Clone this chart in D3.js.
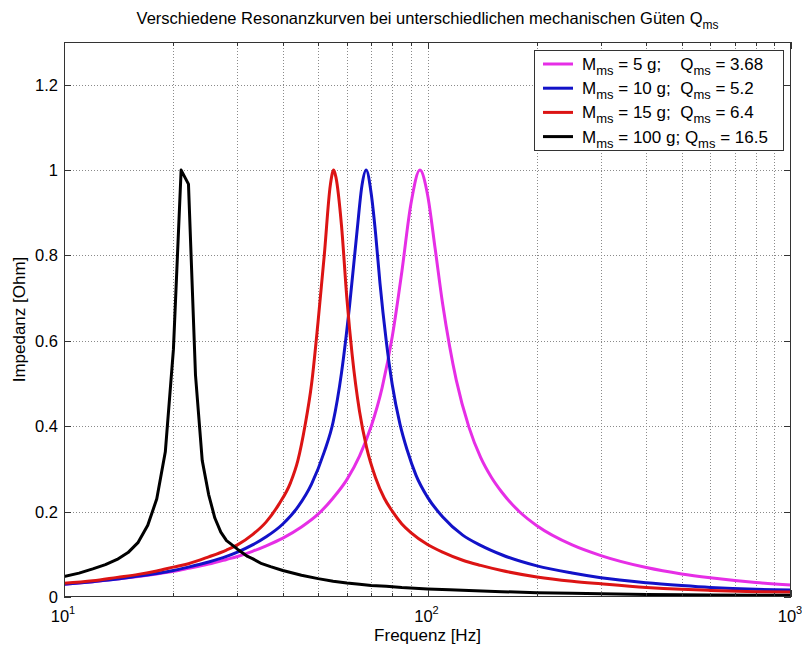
<!DOCTYPE html>
<html><head><meta charset="utf-8">
<script src="https://cdn.jsdelivr.net/npm/d3@7"></script>
<style>
body{margin:0;background:#fff;}
svg{display:block;font-family:Arial,"Liberation Sans",Helvetica,sans-serif;}
</style></head><body>
<svg id="chart" width="802" height="645"></svg>
<script>
// ---------- data ----------
const magentaFreq = [10,12,14,16,18,20,22,25,28,30,33,36,40,45,50,55,60,65,70,75,80,85,90,95.3,100,105,110,115,120,130,140,150,160,180,200,250,300,400,500,600,800,1000];
const magentaImp  = [0.030,0.036,0.042,0.048,0.054,0.060,0.067,0.077,0.088,0.095,0.107,0.120,0.138,0.164,0.194,0.232,0.275,0.330,0.400,0.490,0.610,0.762,0.920,1.0,0.943,0.815,0.688,0.588,0.508,0.398,0.327,0.280,0.246,0.198,0.167,0.122,0.097,0.069,0.054,0.045,0.034,0.028];

const blueFreq = [10,12,14,16,18,20,22,25,28,30,33,36,40,44,48,52,55,58,61,64,66,67.8,70,72,74,77,80,84,88,93,100,110,125,140,160,200,250,300,400,500,600,800,1000];
const blueImp  = [0.030,0.036,0.042,0.049,0.055,0.062,0.070,0.082,0.095,0.105,0.122,0.141,0.171,0.211,0.265,0.340,0.410,0.525,0.680,0.857,0.963,1.0,0.945,0.850,0.735,0.600,0.497,0.405,0.343,0.285,0.234,0.188,0.145,0.121,0.099,0.073,0.056,0.045,0.0335,0.027,0.0225,0.018,0.0165];

const redFreq = [10,12,14,16,18,20,22,25,28,30,33,36,39,42,44,46,48,50,52,54,55.2,56,58,60,62,65,68,72,76,80,85,90,100,110,125,140,160,200,250,300,400,500,600,800,1000];
const redImp  = [0.032,0.038,0.046,0.053,0.061,0.070,0.078,0.094,0.110,0.122,0.146,0.176,0.217,0.268,0.320,0.400,0.500,0.645,0.800,0.963,1.0,0.983,0.870,0.700,0.570,0.435,0.350,0.279,0.232,0.201,0.171,0.151,0.123,0.105,0.086,0.074,0.062,0.047,0.037,0.031,0.0225,0.018,0.0155,0.0125,0.0115];

const blackFreq = [10,11,12,13,14,15,16,17,18,19,20,21,22,23,24,25,26,27,28,29,30,32,33,35,37,40,45,50,55,60,65,70,77,85,100,115,130,160,200,250,300,400,500,600,800,1000];
const blackImp  = [0.048,0.056,0.066,0.076,0.088,0.104,0.128,0.168,0.230,0.340,0.580,1.0,0.967,0.520,0.320,0.240,0.185,0.152,0.132,0.122,0.112,0.095,0.090,0.078,0.071,0.062,0.051,0.043,0.037,0.033,0.030,0.027,0.025,0.022,0.019,0.017,0.015,0.0125,0.010,0.0085,0.0075,0.006,0.005,0.0045,0.004,0.004];

const seriesNames  = ["magenta","blue","red","black"];
const legendMass   = ["5","10","15","100"];
const legendQ      = ["3.68","5.2","6.4","16.5"];
const legendGap    = ["    ","  ","  "," "];

const xTicksMajor   = [10,100,1000];
const xTickExponent = ["1","2","3"];
const xTicksMinor   = [20,30,40,50,60,70,80,90,200,300,400,500,600,700,800,900];
const yTicks        = [0,0.2,0.4,0.6,0.8,1.0,1.2];
const yTickLabels   = ["0","0.2","0.4","0.6","0.8","1","1.2"];

// ---------- layout ----------
const W = 802, H = 645;
const L = 64, R = 791, T = 42, B = 597;
const colors = {magenta:"#e62ee6", blue:"#1212c8", red:"#dc1414", black:"#000000"};
const frameColor = "#333333";
const gridColor = "#8a8a8a";

const svg = d3.select("#chart");
svg.append("rect").attr("width",W).attr("height",H).attr("fill","#fff");

const x = d3.scaleLog().domain([10,1000]).range([L,R]);
const y = d3.scaleLinear().domain([0,1.3]).range([B,T]);

// grid
const grid = svg.append("g").attr("stroke",gridColor).attr("stroke-width",1).attr("stroke-dasharray","1,2");
grid.selectAll("line.gx").data(xTicksMinor.concat([100])).join("line")
  .attr("x1",d=>Math.round(x(d))+0.5).attr("x2",d=>Math.round(x(d))+0.5)
  .attr("y1",T).attr("y2",B);
grid.selectAll("line.gy").data(yTicks.filter(d=>d>0)).join("line")
  .attr("class","gy")
  .attr("x1",L).attr("x2",R)
  .attr("y1",d=>Math.round(y(d))+0.5).attr("y2",d=>Math.round(y(d))+0.5);

// curves
const dataSets = {
  magenta: magentaFreq.map((f,i)=>[f,magentaImp[i]]),
  blue:    blueFreq.map((f,i)=>[f,blueImp[i]]),
  red:     redFreq.map((f,i)=>[f,redImp[i]]),
  black:   blackFreq.map((f,i)=>[f,blackImp[i]])
};
const smooth = d3.line().x(d=>x(d[0])).y(d=>y(d[1])).curve(d3.curveMonotoneX);
const straight = d3.line().x(d=>x(d[0])).y(d=>y(d[1])).curve(d3.curveLinear);

svg.append("clipPath").attr("id","clip").append("rect")
  .attr("x",L).attr("y",T).attr("width",R-L).attr("height",B-T+2);

const curves = svg.append("g").attr("clip-path","url(#clip)");
seriesNames.forEach(name=>{
  curves.append("path")
    .attr("d",(name==="black"?straight:smooth)(dataSets[name]))
    .attr("fill","none").attr("stroke",colors[name])
    .attr("stroke-width",3).attr("stroke-linejoin","round").attr("stroke-linecap","round");
});

// frame and ticks
const axG = svg.append("g").attr("stroke",frameColor).attr("stroke-width",1).attr("fill","none");
axG.append("rect").attr("x",L+0.5).attr("y",T+0.5).attr("width",R-L-1).attr("height",B-T-1);

const majLen = 7, minLen = 4;
function vTicks(vals,len){
  vals.forEach(v=>{
    const px = Math.round(x(v))+0.5;
    axG.append("line").attr("x1",px).attr("x2",px).attr("y1",B).attr("y2",B-len);
    axG.append("line").attr("x1",px).attr("x2",px).attr("y1",T).attr("y2",T+len);
  });
}
vTicks(xTicksMajor,majLen);
vTicks(xTicksMinor,minLen);
yTicks.forEach(v=>{
  const py = Math.round(y(v))+0.5;
  axG.append("line").attr("x1",L).attr("x2",L+majLen).attr("y1",py).attr("y2",py);
  axG.append("line").attr("x1",R).attr("x2",R-majLen).attr("y1",py).attr("y2",py);
});

// y tick labels
svg.append("g").selectAll("text").data(yTicks).join("text")
  .attr("x",L-6).attr("y",d=>y(d)+6)
  .attr("text-anchor","end").attr("font-size",16.5).attr("fill","#000")
  .text((d,i)=>yTickLabels[i]);

// x tick labels 10^n
const xl = svg.append("g");
xTicksMajor.forEach((v,i)=>{
  const t = xl.append("text").attr("x",x(v)-1).attr("y",622).attr("text-anchor","middle")
    .attr("font-size",16.5).attr("fill","#000");
  t.append("tspan").text("10");
  t.append("tspan").attr("font-size",11).attr("dy",-8).text(xTickExponent[i]);
});

// axis titles
svg.append("text").attr("x",(L+R)/2).attr("y",641).attr("text-anchor","middle")
  .attr("font-size",17).attr("fill","#000").text("Frequenz [Hz]");
svg.append("text").attr("transform",`translate(25,${(T+B)/2}) rotate(-90)`)
  .attr("text-anchor","middle").attr("font-size",17).attr("fill","#000").text("Impedanz [Ohm]");

// title
const title = svg.append("text").attr("x",(L+R)/2).attr("y",24).attr("text-anchor","middle")
  .attr("font-size",16.5).attr("fill","#000");
title.append("tspan").text("Verschiedene Resonanzkurven bei unterschiedlichen mechanischen Güten Q");
title.append("tspan").attr("font-size",12).attr("dy",5).text("ms");

// legend
const lg = svg.append("g");
lg.append("rect").attr("x",534.5).attr("y",50.5).attr("width",249).attr("height",100)
  .attr("fill","#fff").attr("stroke",frameColor).attr("stroke-width",1);
seriesNames.forEach((name,i)=>{
  const ly = 64 + i*24.2;
  lg.append("line").attr("x1",543).attr("x2",573).attr("y1",ly).attr("y2",ly)
    .attr("stroke",colors[name]).attr("stroke-width",3);
  const t = lg.append("text").attr("x",582).attr("y",ly+6).attr("font-size",17)
    .attr("fill","#000").style("white-space","pre");
  t.append("tspan").text("M");
  t.append("tspan").attr("font-size",13).attr("dy",5).text("ms");
  t.append("tspan").attr("dy",-5).text(" = " + legendMass[i] + " g;" + legendGap[i] + "Q");
  t.append("tspan").attr("font-size",13).attr("dy",5).text("ms");
  t.append("tspan").attr("dy",-5).text(" = " + legendQ[i]);
});
</script>
</body></html>
